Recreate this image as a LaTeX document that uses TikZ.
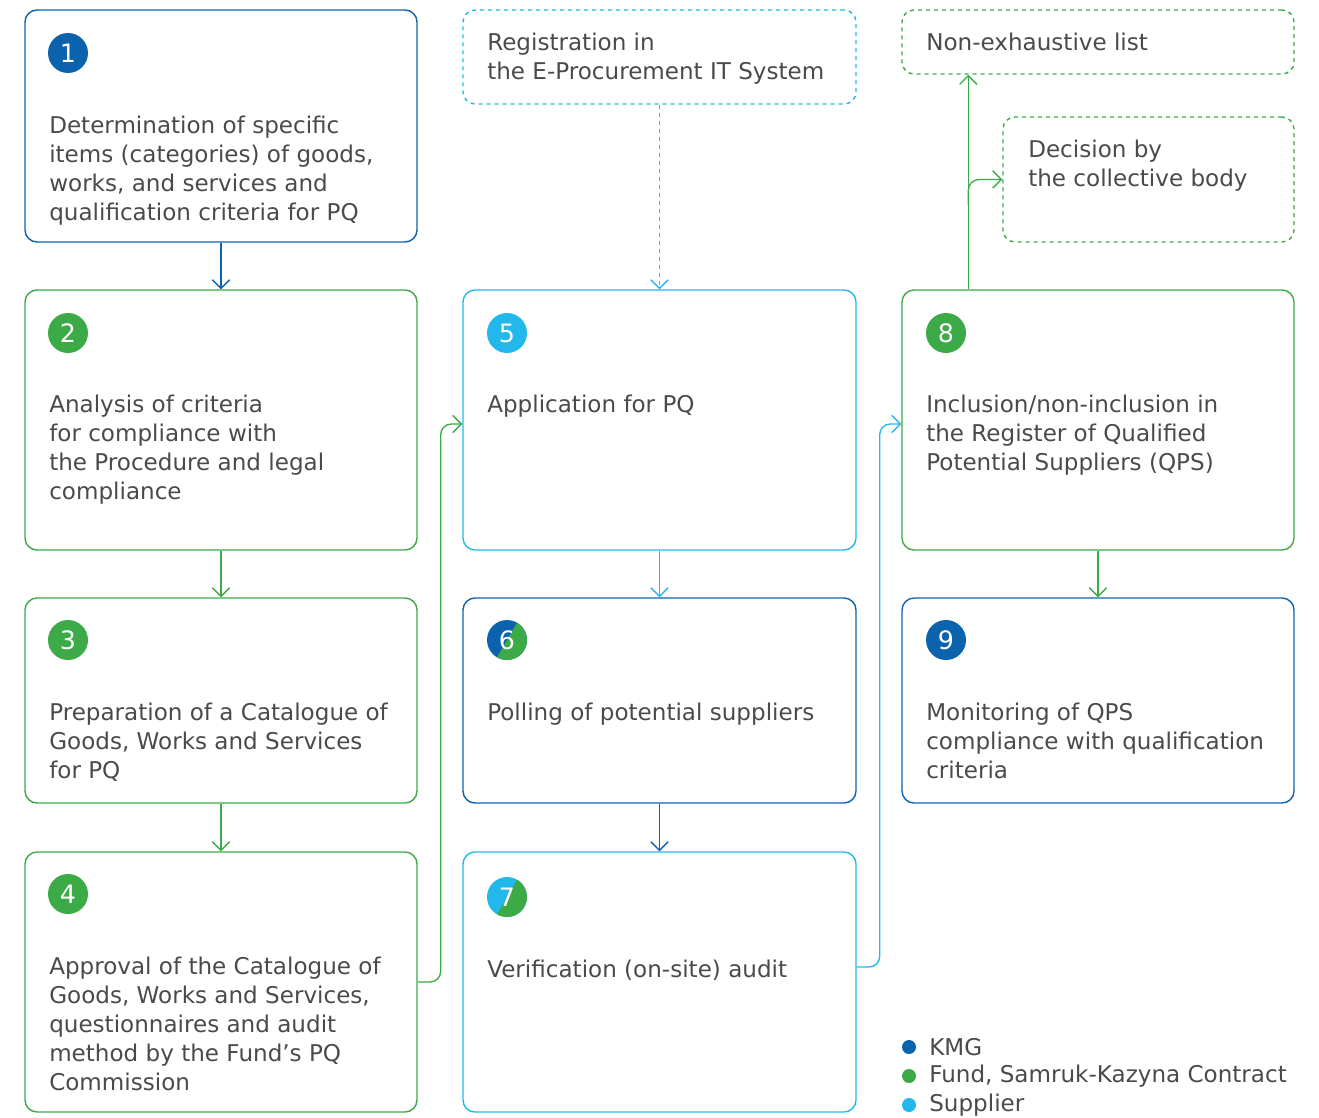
\documentclass[tikz,border=0pt]{standalone}
\usepackage{fontspec}
\setmainfont{DejaVu Sans}
\usetikzlibrary{arrows.meta}
\definecolor{kmg}{HTML}{0B63AE}
\definecolor{fund}{HTML}{3BAA47}
\definecolor{sup}{HTML}{22B8EC}
\definecolor{txtc}{HTML}{4A4A4A}
\newcommand{\mkbox}[7]{%
  \node[draw=#6, line width=1.05pt, rounded corners=9pt, inner sep=0pt,
        minimum width={(#4-#2)*0.75pt}, minimum height={(#5-#3)*0.75pt}, #7]
        (#1) at ({(#2+#4)/2},{(#3+#5)/2}) {};}
\begin{document}
\begin{tikzpicture}[x=0.75pt,y=-0.75pt,
  txt/.style={anchor=base west, align=left, inner sep=0pt, text=txtc,
    font=\fontsize{17.3}{21.75}\selectfont},
  num/.style={circle, fill=#1, minimum size=30pt, inner sep=0pt, text=white,
    font=\fontsize{19}{19}\selectfont},
  numclear/.style={circle, minimum size=30pt, inner sep=0pt, text=white,
    font=\fontsize{19}{19}\selectfont},
  arr/.style={draw=#1, line width=1pt, -{Straight Barb[length=6.5pt,width=13pt]}},
  leg/.style={anchor=west, inner sep=0pt, text=txtc,
    font=\fontsize{17.3}{21.75}\selectfont}]
\useasboundingbox (0,0) rectangle (1319,1117);
% boxes
\mkbox{b1}{25}{10}{417}{242}{kmg}{}
\mkbox{b2}{25}{290}{417}{550}{fund}{}
\mkbox{b3}{25}{598}{417}{803}{fund}{}
\mkbox{b4}{25}{852}{417}{1112}{fund}{}
\mkbox{reg}{463}{10}{856}{104}{sup}{dashed}
\mkbox{b5}{463}{290}{856}{550}{sup}{}
\mkbox{b6}{463}{598}{856}{803}{kmg}{}
\mkbox{b7}{463}{852}{856}{1112}{sup}{}
\mkbox{ne}{902}{10}{1294}{74}{fund}{dashed}
\mkbox{dec}{1003}{117}{1294}{242}{fund}{dashed}
\mkbox{b8}{902}{290}{1294}{550}{fund}{}
\mkbox{b9}{902}{598}{1294}{803}{kmg}{}
% number circles
\node[num=kmg] (n1) at (68,53) {1};
\node[num=fund] (n2) at (68,333) {2};
\node[num=fund] (n3) at (68,640) {3};
\node[num=fund] (n4) at (68,894) {4};
\node[num=sup] (n5) at (507,333) {5};
\begin{scope}
  \clip (507,640) circle[radius=20];
  \fill[kmg] (480,613) rectangle (534,667);
  \fill[fund] (522,614) -- (547,600) -- (547,680) -- (492,666) -- cycle;
\end{scope}
\node[numclear] (n6) at (507,640) {6};
\begin{scope}
  \clip (507,897) circle[radius=20];
  \fill[sup] (480,870) rectangle (534,924);
  \fill[fund] (522,871) -- (547,857) -- (547,937) -- (492,923) -- cycle;
\end{scope}
\node[numclear] (n7) at (507,897) {7};
\node[num=fund] (n8) at (946,333) {8};
\node[num=kmg] (n9) at (946,640) {9};
% texts (base anchor = baseline of the last line)
\node[txt] (t1) at (49,220) {Determination of specific\\items (categories) of goods,\\works, and services and\\qualification criteria for PQ};
\node[txt] (t2) at (49,499) {Analysis of criteria\\for compliance with\\the Procedure and legal\\compliance};
\node[txt] (t3) at (49,778) {Preparation of a Catalogue of\\Goods, Works and Services\\for PQ};
\node[txt] (t4) at (49,1090) {Approval of the Catalogue of\\Goods, Works and Services,\\questionnaires and audit\\method by the Fund’s PQ\\Commission};
\node[txt] (treg) at (487,79) {Registration in\\the E-Procurement IT System};
\node[txt] (t5) at (487,412) {Application for PQ};
\node[txt] (t6) at (487,720) {Polling of potential suppliers};
\node[txt] (t7) at (487,977) {Verification (on-site) audit};
\node[txt] (tne) at (926,50) {Non-exhaustive list};
\node[txt] (tdec) at (1028,186) {Decision by\\the collective body};
\node[txt] (t8) at (926,470) {Inclusion/non-inclusion in\\the Register of Qualified\\Potential Suppliers (QPS)};
\node[txt] (t9) at (926,778) {Monitoring of QPS\\compliance with qualification\\criteria};
% connectors
\draw[arr=kmg] (b1.south) -- (b2.north);
\draw[arr=fund] (b2.south) -- (b3.north);
\draw[arr=fund] (b3.south) -- (b4.north);
\draw[arr=fund, rounded corners=8pt] (b4.east) -- ++(23,0) |- ([yshift=-3pt]b5.west);
\draw[arr=sup, dashed] (reg.south) -- (b5.north);
\draw[arr=sup] (b5.south) -- (b6.north);
\draw[arr=kmg] (b6.south) -- (b7.north);
\draw[arr=sup, rounded corners=8pt] ([yshift=11.25pt]b7.east) -- ++(23,0) |- ([yshift=-3pt]b8.west);
\coordinate (s8) at ([xshift=50.25pt]b8.north west);
\draw[arr=fund] (s8) -- (s8 |- ne.south);
\coordinate (br) at (s8 |- 0,205);
\draw[arr=fund, rounded corners=8pt] (br) |- (dec.west);
\draw[arr=fund] (b8.south) -- (b9.north);
% legend
\fill[kmg] (909,1047) circle[radius=7];
\fill[fund] (909,1076) circle[radius=7];
\fill[sup] (909,1105) circle[radius=7];
\node[leg] (l1) at (929,1047) {KMG};
\node[leg] (l2) at (929,1076) {Fund, Samruk-Kazyna Contract};
\node[leg] (l3) at (929,1105) {Supplier};
\end{tikzpicture}
\end{document}
